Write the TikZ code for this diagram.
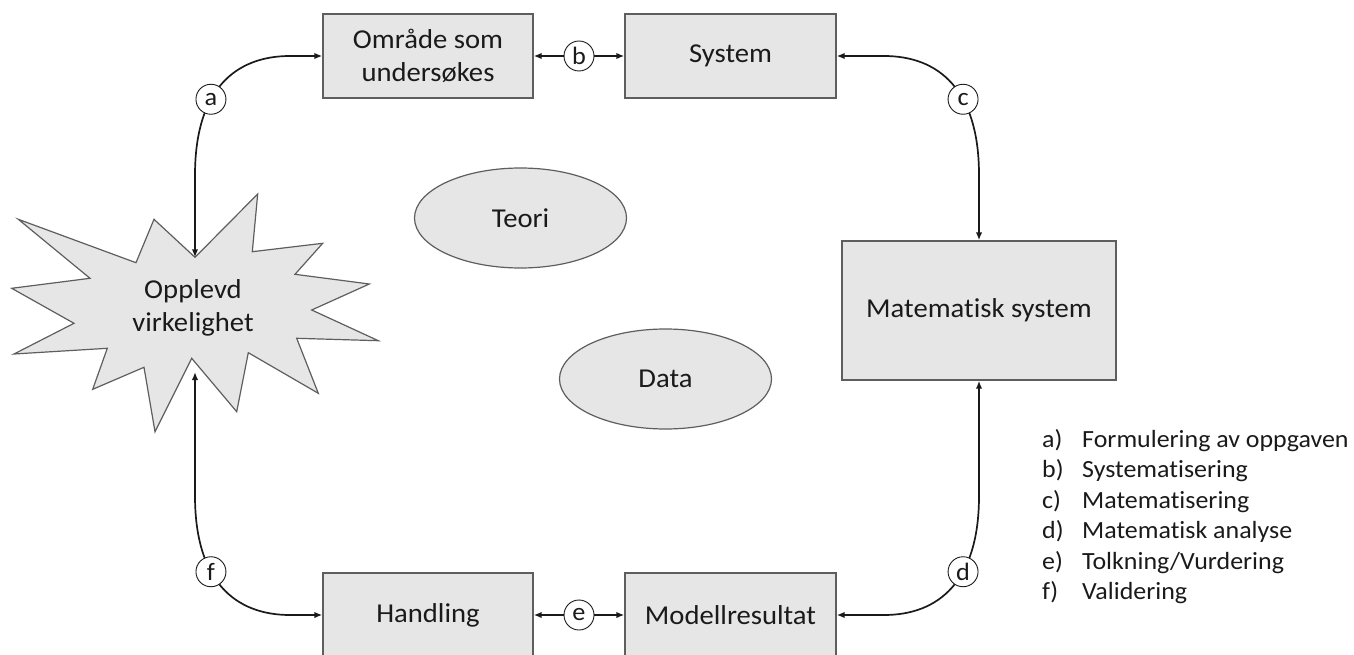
\documentclass[tikz,border=0pt]{standalone}
\usepackage{fontspec}
\setmainfont{Carlito}[FakeStretch=1.05, Ligatures=NoCommon]
\usetikzlibrary{arrows.meta,shapes.geometric}

\definecolor{boxfill}{HTML}{E6E6E6}
\definecolor{boxline}{HTML}{5E5E5E}
\definecolor{ink}{HTML}{1A1A1A}

\begin{document}
\begin{tikzpicture}[x=1pt,y=-1pt,
  every node/.style={text=ink},
  stage/.style={draw=boxline, line width=1.4pt, fill=boxfill, inner sep=0pt,
    align=center, font=\fontsize{27.3}{33}\selectfont},
  blob/.style={ellipse, draw=boxline, line width=1.2pt, fill=boxfill,
    minimum width=212pt, minimum height=100pt, inner sep=0pt,
    font=\fontsize{27.3}{33}\selectfont},
  tag/.style={circle, draw=ink, line width=0.9pt, fill=white,
    minimum size=30pt, inner sep=0pt,
    font=\fontsize{25}{25}\selectfont},
  link/.style={draw=ink, line width=1.7pt,
    {Latex[length=8pt,width=6.5pt]}-{Latex[length=8pt,width=6.5pt]}},
  legend/.style={anchor=base west, inner sep=0pt,
    font=\fontsize{24.7}{30}\selectfont}
]
\useasboundingbox (0,0) rectangle (1354,655);

% process boxes
\node[stage, minimum width=210pt, minimum height=84pt] (omr) at (428,56) {Område som\\undersøkes};
\node[stage, minimum width=211pt, minimum height=84pt] (sys) at (730.5,56) {System};
\node[stage, minimum width=274pt, minimum height=139pt] (mat) at (979,310.5) {Matematisk system};
\node[stage, minimum width=211pt, minimum height=84pt] (mod) at (730.5,615) {Modellresultat};
\node[stage, minimum width=210pt, minimum height=84pt] (hand) at (428,615) {Handling};

% background knowledge
\node[blob] (teori) at (520.5,218) {Teori};
\node[blob] (data) at (665.5,379) {Data};

% the experienced reality as an explosion shape
\draw[fill=boxfill, draw=boxline, line width=1.2pt, line join=miter]
  (18.3,219.3) -- (136,262.7) -- (154,219.3) -- (195,257.3) -- (257.7,194)
  -- (252.3,251.7) -- (322.7,243.3) -- (295,274.3) -- (369.3,284)
  -- (311.7,310) -- (378.3,340.7) -- (296.7,338.3) -- (318.3,393.3)
  -- (248.3,352.7) -- (236.7,411.7) -- (191.7,358.3) -- (155,431.7)
  -- (144,367.3) -- (92.7,389.3) -- (107.3,348.3) -- (14,354)
  -- (74,323.3) -- (11.7,288.3) -- (90,278.3) -- cycle;
\node[align=center, inner sep=0pt, font=\fontsize{27.3}{33}\selectfont] (star) at (193,308) {Opplevd\\virkelighet};
\coordinate (startop) at (195,257.3);
\coordinate (starbot) at (195,372);

% modelling cycle
\path[link] (startop) -- (195,175) .. controls (195,90) and (235,56) .. (290,56)
  node[tag, pos=0.38] (la) {a} -- (omr.west);
\path[link] (omr.east) -- node[tag] (lb) {b} (sys.west);
\path[link] (sys.east) -- (884,56) .. controls (939,56) and (979,90) .. (979,175)
  node[tag, pos=0.62] (lc) {c} -- (mat.north);
\path[link] (mat.south) -- (979,496) .. controls (979,581) and (939,615) .. (884,615)
  node[tag, pos=0.38] (ld) {d} -- (mod.east);
\path[link] (hand.east) -- node[tag] (le) {e} (mod.west);
\path[link] (hand.west) -- (290,615) .. controls (235,615) and (195,581) .. (195,496)
  node[tag, pos=0.62] (lf) {f} -- (starbot);

% key to the steps
\node[legend] (k1) at (1042,447) {a)};
\node[legend] (t1) at (1082,447) {Formulering av oppgaven};
\node[legend] (k2) at (1042,477.5) {b)};
\node[legend] (t2) at (1082,477.5) {Systematisering};
\node[legend] (k3) at (1042,508) {c)};
\node[legend] (t3) at (1082,508) {Matematisering};
\node[legend] (k4) at (1042,538.5) {d)};
\node[legend] (t4) at (1082,538.5) {Matematisk analyse};
\node[legend] (k5) at (1042,569) {e)};
\node[legend] (t5) at (1082,569) {Tolkning/Vurdering};
\node[legend] (k6) at (1042,599.5) {f)};
\node[legend] (t6) at (1082,599.5) {Validering};
\end{tikzpicture}
\end{document}
